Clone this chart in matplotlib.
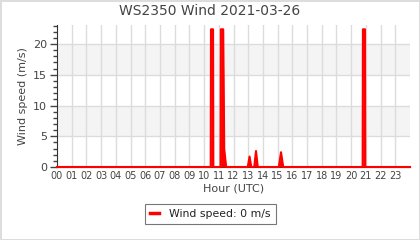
import matplotlib
matplotlib.use("Agg")
import matplotlib.pyplot as plt
from matplotlib.ticker import MultipleLocator

# wind samples (hour UTC, m/s)
hours = [0.0, 10.45, 10.47, 10.61, 10.63, 11.12, 11.14, 11.30, 11.37, 11.50,
         12.97, 13.09, 13.21, 13.41, 13.53, 13.65, 15.08, 15.23, 15.38,
         20.78, 20.80, 20.94, 20.96, 24.0]
wind = [0, 0, 22.4, 22.4, 0, 0, 22.4, 22.4, 2.9, 0,
        0, 1.7, 0, 0, 2.6, 0, 0, 2.4, 0,
        0, 22.4, 22.4, 0, 0]
hour_labels = ["%02d" % h for h in range(24)]
title = "WS2350 Wind 2021-03-26"
legend_label = "Wind speed: 0 m/s"

fig = plt.figure(figsize=(4.2, 2.4), dpi=100)
fig.patch.set_facecolor("white")
fig.patch.set_edgecolor("#dddddd")
fig.patch.set_linewidth(2)
ax = fig.add_axes([57 / 420, 1 - 167 / 240, 353 / 420, 142 / 240])

ax.set_xlim(0, 24)
ax.set_ylim(0, 23.1)

# alternating horizontal bands
for lo in (5, 15):
    ax.axhspan(lo, lo + 5, color="#f4f4f4", zorder=0, lw=0)
for y in (5, 10, 15, 20):
    ax.axhline(y, color="#dcdcdc", lw=1, zorder=1)
for h in range(1, 24):
    ax.axvline(h, color="#dcdcdc", lw=1, zorder=1)

ax.fill_between(hours, wind, color="red", lw=0, zorder=3)
ax.plot(hours, wind, color="red", lw=1.5, zorder=4, clip_on=False,
        label=legend_label)

for s in ("top", "right"):
    ax.spines[s].set_visible(False)
ax.spines["left"].set_color("#333333")
ax.spines["bottom"].set_color("#333333")

ax.set_xticks(range(24))
ax.set_xticklabels(hour_labels)
ax.tick_params(axis="x", length=0, pad=3, labelsize=7, colors="#444444")
ax.yaxis.set_major_locator(MultipleLocator(5))
ax.yaxis.set_minor_locator(MultipleLocator(1))
ax.tick_params(axis="y", which="major", length=5, width=1, labelsize=8,
               colors="#444444", pad=2)
ax.tick_params(axis="y", which="minor", length=3, width=1, color="#444444")

ax.set_xlabel("Hour (UTC)", fontsize=8, color="#444444", labelpad=2)
ax.set_ylabel("Wind speed (m/s)", fontsize=8, color="#444444", labelpad=4)
fig.text(0.5, 1 - 11 / 240, title, ha="center", va="center",
         fontsize=10, color="#444444")

leg = fig.legend(loc="center", bbox_to_anchor=(210.5 / 420, 1 - 214 / 240),
                 fontsize=7.8, frameon=True, fancybox=False, handlelength=0.8,
                 handletextpad=1.0, borderpad=0.5)
leg.get_frame().set_edgecolor("#555555")
leg.get_frame().set_linewidth(0.8)
for line in leg.get_lines():
    line.set_linewidth(2.5)
for t in leg.get_texts():
    t.set_color("#222222")

fig.savefig("out.png", dpi=100)
